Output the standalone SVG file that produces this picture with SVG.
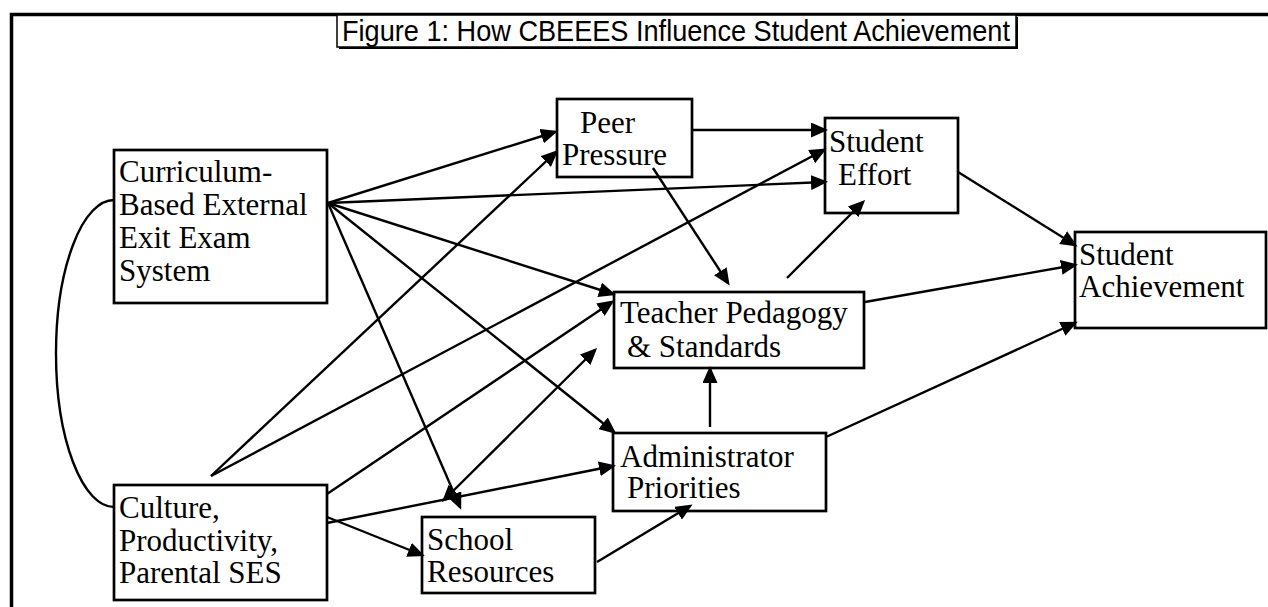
<svg xmlns="http://www.w3.org/2000/svg" width="1268" height="607" viewBox="0 0 1268 607">
<style>
.box{fill:#fff;stroke:#000;stroke-width:2.7}
.lbl{font-family:"Liberation Serif","Times New Roman",serif;font-size:31px;fill:#000}
.ttl{font-family:"Liberation Sans",Arial,sans-serif;font-size:29px;fill:#000}
.con{fill:none;stroke:#000;stroke-width:2.4}
.arr{marker-end:url(#ah)}
</style>
<defs>
<marker id="ah" markerUnits="userSpaceOnUse" markerWidth="17" markerHeight="15" viewBox="0 0 17 15" refX="14" refY="7.5" orient="auto-start-reverse">
<path d="M0,0 L17,7.5 L0,15 z" fill="#000"/>
</marker>
</defs>
<rect width="1268" height="607" fill="#fff"/>
<g id="frame">
<path d="M11.5,607 L11.5,14.5 L1268,14.5" fill="none" stroke="#000" stroke-width="3.5"/>
</g>
<g id="title">
<rect x="339" y="17" width="679" height="32" fill="#000"/>
<rect x="337" y="15" width="679" height="32" fill="#fff" stroke="#000" stroke-width="1.5"/>
<text class="ttl" x="342" y="41" textLength="668" lengthAdjust="spacingAndGlyphs">Figure 1:  How CBEEES Influence Student Achievement</text>
</g>
<g id="curriculum">
<rect class="box" x="114" y="150" width="213" height="153"/>
<text class="lbl" x="119" y="182">Curriculum-</text>
<text class="lbl" x="119" y="215">Based External</text>
<text class="lbl" x="119" y="248">Exit Exam</text>
<text class="lbl" x="119" y="281">System</text>
</g>
<g id="culture">
<rect class="box" x="114" y="485" width="213" height="115"/>
<text class="lbl" x="119" y="518">Culture,</text>
<text class="lbl" x="119" y="551">Productivity,</text>
<text class="lbl" x="119" y="583">Parental SES</text>
</g>
<g id="peer">
<rect class="box" x="557" y="99" width="135" height="78"/>
<text class="lbl" x="580" y="133">Peer</text>
<text class="lbl" x="562" y="165">Pressure</text>
</g>
<g id="effort">
<rect class="box" x="825" y="118" width="133" height="95"/>
<text class="lbl" x="829" y="152">Student</text>
<text class="lbl" x="838" y="185">Effort</text>
</g>
<g id="teacher">
<rect class="box" x="614" y="292" width="250" height="76"/>
<text class="lbl" x="620" y="323">Teacher Pedagogy</text>
<text class="lbl" x="627" y="357">&amp; Standards</text>
</g>
<g id="admin">
<rect class="box" x="613" y="433" width="213" height="78"/>
<text class="lbl" x="620" y="467">Administrator</text>
<text class="lbl" x="627" y="498">Priorities</text>
</g>
<g id="school">
<rect class="box" x="422" y="517" width="173" height="76"/>
<text class="lbl" x="427" y="550">School</text>
<text class="lbl" x="427" y="582">Resources</text>
</g>
<g id="achievement">
<rect class="box" x="1075" y="232" width="191" height="96"/>
<text class="lbl" x="1079" y="265">Student</text>
<text class="lbl" x="1079" y="297">Achievement</text>
</g>
<g id="connectors">
<path class="con" d="M114,200 A58,153.5 0 0 0 114,507"/>
<path class="con arr" d="M328,203 L555,132"/>
<path class="con arr" d="M328,203 L825,182"/>
<path class="con arr" d="M328,203 L613,294"/>
<path class="con arr" d="M328,203 L614,432"/>
<path class="con arr" d="M328,203 L460,507"/>
<path class="con arr" d="M211,476 L556,152"/>
<path class="con arr" d="M211,476 L824,150"/>
<path class="con arr" d="M327,494 L612,302"/>
<path class="con arr" d="M327,517 L422,555"/>
<path class="con arr" d="M327,523 L613,466"/>
<path class="con arr" d="M444,500 L595,350" marker-start="url(#ah)"/>
<path class="con arr" d="M692,130 L825,130"/>
<path class="con arr" d="M653,168 L728,283"/>
<path class="con arr" d="M787,278 L863,202"/>
<path class="con arr" d="M958,172 L1075,245"/>
<path class="con arr" d="M865,302 L1075,265"/>
<path class="con arr" d="M826,437 L1075,323"/>
<path class="con arr" d="M710,427 L710,369"/>
<path class="con arr" d="M597,562 L690,506"/>
</g>
</svg>
